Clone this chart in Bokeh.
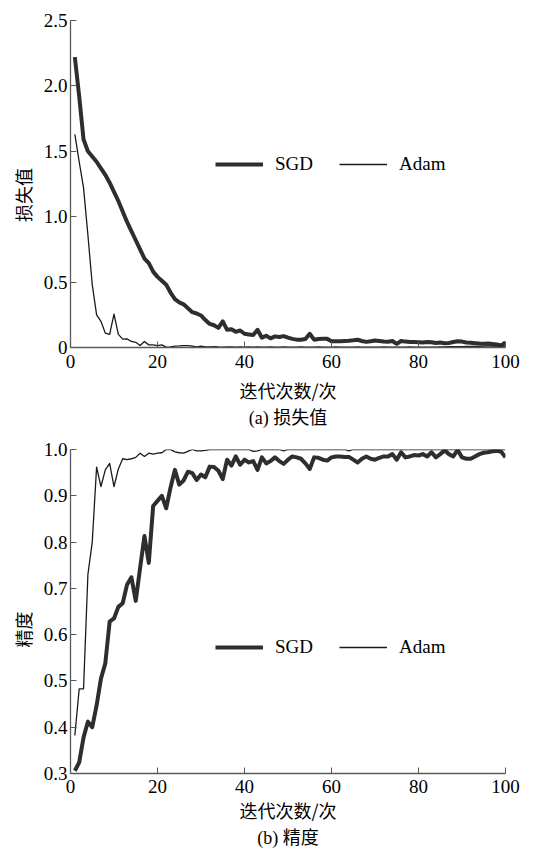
from bokeh.plotting import figure
from bokeh.models import FixedTicker, Legend, LegendItem, Title, Range1d
from bokeh.layouts import column
from bokeh.embed import file_html
from bokeh.resources import INLINE

epochs = list(range(1, 101))

sgd_loss = [2.22, 1.92, 1.59, 1.50, 1.46, 1.42, 1.37, 1.32, 1.26, 1.19,
            1.12, 1.04, 0.96, 0.89, 0.82, 0.75, 0.68, 0.645, 0.58, 0.54,
            0.51, 0.48, 0.42, 0.37, 0.345, 0.33, 0.30, 0.27, 0.26, 0.245,
            0.21, 0.18, 0.17, 0.15, 0.20, 0.135, 0.14, 0.12, 0.13, 0.105,
            0.10, 0.095, 0.135, 0.075, 0.09, 0.07, 0.085, 0.08, 0.087, 0.075,
            0.066, 0.06, 0.06, 0.065, 0.105, 0.06, 0.065, 0.066, 0.066, 0.048,
            0.048, 0.048, 0.05, 0.052, 0.055, 0.059, 0.05, 0.043, 0.048, 0.054,
            0.05, 0.046, 0.044, 0.05, 0.028, 0.05, 0.045, 0.042, 0.042, 0.04,
            0.038, 0.042, 0.04, 0.035, 0.038, 0.033, 0.035, 0.042, 0.048, 0.045,
            0.038, 0.036, 0.033, 0.03, 0.028, 0.03, 0.027, 0.023, 0.015, 0.04]

adam_loss = [1.63, 1.42, 1.22, 0.86, 0.48, 0.25, 0.20, 0.11, 0.10, 0.255,
             0.10, 0.064, 0.066, 0.046, 0.04, 0.015, 0.046, 0.02, 0.02, 0.015,
             0.02, 0.003, 0.005, 0.01, 0.012, 0.015, 0.015, 0.01, 0.005, 0.01,
             0.005, 0.004, 0.006, 0.004, 0.003, 0.005, 0.004, 0.003, 0.004, 0.003,
             0.004, 0.003, 0.004, 0.003, 0.003, 0.004, 0.003, 0.003, 0.004, 0.003,
             0.003, 0.003, 0.004, 0.003, 0.003, 0.003, 0.004, 0.003, 0.003, 0.003,
             0.004, 0.003, 0.003, 0.003, 0.003, 0.004, 0.003, 0.003, 0.003, 0.003,
             0.003, 0.004, 0.003, 0.003, 0.003, 0.003, 0.003, 0.004, 0.003, 0.003,
             0.003, 0.003, 0.003, 0.003, 0.004, 0.005, 0.006, 0.006, 0.007, 0.007,
             0.008, 0.008, 0.009, 0.009, 0.01, 0.01, 0.01, 0.01, 0.01, 0.01]

sgd_acc = [0.306, 0.324, 0.378, 0.412, 0.40, 0.447, 0.505, 0.538, 0.628, 0.635,
           0.66, 0.668, 0.708, 0.724, 0.673, 0.744, 0.813, 0.755, 0.878, 0.889,
           0.90, 0.873, 0.918, 0.956, 0.924, 0.933, 0.952, 0.949, 0.934, 0.946,
           0.94, 0.963, 0.962, 0.954, 0.936, 0.978, 0.965, 0.985, 0.967, 0.978,
           0.972, 0.975, 0.956, 0.983, 0.97, 0.975, 0.983, 0.975, 0.969, 0.978,
           0.985, 0.983, 0.98, 0.97, 0.958, 0.983, 0.982, 0.978, 0.976, 0.983,
           0.985, 0.985, 0.984, 0.984, 0.978, 0.972, 0.98, 0.985, 0.98, 0.978,
           0.982, 0.985, 0.985, 0.99, 0.978, 0.994, 0.983, 0.985, 0.988, 0.987,
           0.99, 0.985, 0.994, 0.983, 0.99, 0.998, 0.99, 0.985, 0.999, 0.983,
           0.98, 0.98, 0.985, 0.99, 0.993, 0.994, 0.996, 0.997, 0.995, 0.983]

adam_acc = [0.382, 0.483, 0.483, 0.73, 0.80, 0.962, 0.92, 0.956, 0.97, 0.92,
            0.958, 0.98, 0.978, 0.98, 0.983, 0.992, 0.985, 0.992, 0.99, 0.992,
            0.993, 1.0, 1.0, 0.995, 0.993, 0.992, 0.996, 1.0, 0.997, 0.997,
            0.998, 1.0, 1.0, 1.0, 1.0, 1.0, 1.0, 1.0, 1.0, 1.0,
            1.0, 0.996, 0.997, 1.0, 1.0, 1.0, 1.0, 1.0, 0.997, 1.0,
            1.0, 1.0, 1.0, 1.0, 1.0, 1.0, 1.0, 1.0, 1.0, 1.0,
            1.0, 1.0, 1.0, 0.997, 1.0, 1.0, 1.0, 1.0, 1.0, 1.0,
            1.0, 1.0, 1.0, 1.0, 1.0, 1.0, 1.0, 1.0, 1.0, 1.0,
            1.0, 1.0, 1.0, 1.0, 1.0, 1.0, 1.0, 1.0, 1.0, 1.0,
            1.0, 1.0, 1.0, 1.0, 1.0, 1.0, 1.0, 1.0, 1.0, 1.0]

x_ticks = [0, 20, 40, 60, 80, 100]
loss_ticks = [0, 0.5, 1.0, 1.5, 2.0, 2.5]
loss_labels = {0: "0", 0.5: "0.5", 1.0: "1.0", 1.5: "1.5", 2.0: "2.0", 2.5: "2.5"}
acc_ticks = [0.3, 0.4, 0.5, 0.6, 0.7, 0.8, 0.9, 1.0]
acc_labels = {0.3: "0.3", 0.4: "0.4", 0.5: "0.5", 0.6: "0.6", 0.7: "0.7", 0.8: "0.8", 0.9: "0.9", 1.0: "1.0"}

SERIF = "'Liberation Serif', 'Times New Roman', serif"
CJK = "'Noto Sans CJK SC'"
MIXED = "'Liberation Serif', 'Noto Sans CJK SC', serif"


def make_fig(frame_h, b_top, b_bottom, y0, y1, yticks, ylabels, ylabel, caption,
             ysgd, yadam, leg_loc, tick_so, label_so, cap_so):
    p = figure(frame_width=435, frame_height=frame_h,
               min_border_left=70, min_border_right=29,
               min_border_top=b_top, min_border_bottom=b_bottom,
               x_range=Range1d(0, 100), y_range=Range1d(y0, y1),
               output_backend="svg", toolbar_location=None)
    p.xgrid.visible = False
    p.ygrid.visible = False
    p.outline_line_color = None
    for ax in (p.xaxis[0], p.yaxis[0]):
        ax.axis_line_color = "#5a5a5a"
        ax.axis_line_width = 1.3
        ax.major_tick_line_color = "#5a5a5a"
        ax.major_tick_line_width = 1
        ax.major_tick_in = 6
        ax.major_tick_out = 0
        ax.minor_tick_line_color = None
        ax.major_label_text_font = SERIF
        ax.major_label_text_font_size = "19px"
        ax.major_label_text_color = "black"
        ax.axis_label_text_font = CJK
        ax.axis_label_text_font_size = "18px"
        ax.axis_label_text_font_style = "normal"
        ax.axis_label_text_color = "black"
    p.xaxis.ticker = FixedTicker(ticks=x_ticks)
    p.yaxis.ticker = FixedTicker(ticks=yticks)
    p.yaxis.major_label_overrides = ylabels
    p.xaxis.major_label_standoff = tick_so
    p.yaxis.major_label_standoff = 3
    p.xaxis.axis_label = "迭代次数/次"
    p.xaxis.axis_label_standoff = label_so
    p.yaxis.axis_label = ylabel
    p.yaxis.axis_label_standoff = 5

    r1 = p.line(epochs, ysgd, line_width=4, line_color="#2e2e2e", line_join="round")
    r2 = p.line(epochs, yadam, line_width=1.3, line_color="#1a1a1a", line_join="round")

    leg = Legend(items=[LegendItem(label="SGD", renderers=[r1]),
                        LegendItem(label="Adam", renderers=[r2])],
                 orientation="horizontal", location=leg_loc,
                 border_line_color=None, background_fill_alpha=0,
                 padding=0, margin=0, spacing=26, label_standoff=12,
                 glyph_width=48, glyph_height=20,
                 label_text_font=SERIF, label_text_font_size="19px",
                 label_text_color="black")
    p.add_layout(leg)

    t = Title(text=caption, align="center", text_font=MIXED,
              text_font_size="18px", text_font_style="normal",
              text_color="black", standoff=cap_so)
    p.add_layout(t, "below")
    return p


p1 = make_fig(327, 20, 85, 0, 2.5, loss_ticks, loss_labels, "损失值\u3000 ", "(a) 损失值",
              sgd_loss, adam_loss, (145, 172), 7, 6, 1)
p2 = make_fig(324, 17, 78, 0.3, 1.0, acc_ticks, acc_labels, "精度\u3000\u3000", "(b) 精度",
              sgd_acc, adam_acc, (145, 115), 6, 1, 1)

page = column(p1, p2)
open("out.html", "w").write(file_html(page, INLINE))
